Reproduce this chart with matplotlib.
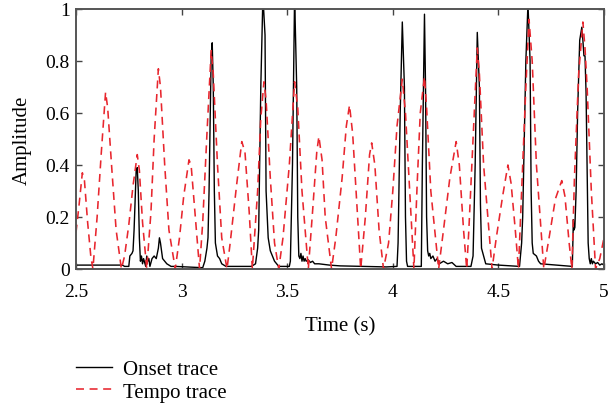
import numpy as np
import matplotlib
matplotlib.use("Agg")
import matplotlib.pyplot as plt

plt.rcParams['font.family'] = ['Liberation Serif', 'DejaVu Serif']

# Onset trace (black)
onset_t = [2.50, 2.72, 2.73, 2.75, 2.755, 2.765, 2.77, 2.775, 2.785, 2.79, 2.795, 2.80,
           2.805, 2.81, 2.815, 2.82, 2.83, 2.835, 2.84, 2.845, 2.85, 2.86, 2.87, 2.88,
           2.89, 2.895, 2.90, 2.91, 2.92, 2.93, 2.95, 2.97, 3.10, 3.11, 3.12, 3.125,
           3.13, 3.14, 3.145, 3.15, 3.155, 3.16, 3.17, 3.18, 3.19, 3.21, 3.33, 3.35,
           3.36, 3.365, 3.375, 3.385, 3.395, 3.40, 3.41, 3.42, 3.44, 3.46, 3.51, 3.515,
           3.525, 3.535, 3.545, 3.55, 3.555, 3.56, 3.565, 3.57, 3.575, 3.58, 3.585, 3.59,
           3.60, 3.61, 3.62, 3.63, 3.65, 3.70, 3.75, 3.97, 4.02, 4.025, 4.035, 4.045,
           4.055, 4.06, 4.065, 4.07, 4.135, 4.14, 4.15, 4.155, 4.16, 4.165, 4.17, 4.175,
           4.18, 4.19, 4.20, 4.21, 4.22, 4.24, 4.26, 4.28, 4.30, 4.33, 4.37, 4.38,
           4.39, 4.40, 4.41, 4.415, 4.42, 4.43, 4.44, 4.50, 4.60, 4.61, 4.615, 4.62,
           4.63, 4.64, 4.65, 4.655, 4.66, 4.665, 4.68, 4.69, 4.70, 4.85, 4.855, 4.858,
           4.862, 4.868, 4.875, 4.885, 4.895, 4.90, 4.905, 4.91, 4.915, 4.92, 4.925,
           4.93, 4.935, 4.94, 4.945, 4.95, 4.96, 4.97, 4.98, 4.99, 5.00]
onset_a = [0.015, 0.015, 0.01, 0.01, 0.05, 0.06, 0.07, 0.15, 0.38, 0.39, 0.30, 0.12,
           0.03, 0.05, 0.02, 0.04, 0.01, 0.05, 0.03, 0.04, 0.01, 0.04, 0.05, 0.04,
           0.08, 0.12, 0.10, 0.04, 0.03, 0.02, 0.01, 0.01, 0.005, 0.03, 0.08, 0.12,
           0.30, 0.82, 0.87, 0.70, 0.30, 0.10, 0.05, 0.04, 0.02, 0.01, 0.01, 0.02,
           0.08, 0.15, 0.70, 1.05, 0.90, 0.30, 0.12, 0.07, 0.03, 0.01, 0.01, 0.03,
           0.40, 1.05, 0.70, 0.20, 0.05, 0.04, 0.06, 0.03, 0.05, 0.03, 0.04, 0.03,
           0.035, 0.025, 0.03, 0.02, 0.02, 0.015, 0.012, 0.008, 0.01, 0.10, 0.60, 0.95,
           0.70, 0.20, 0.03, 0.01, 0.01, 0.40, 0.98, 0.70, 0.20, 0.07, 0.05, 0.06,
           0.04, 0.05, 0.03, 0.04, 0.02, 0.03, 0.02, 0.025, 0.01, 0.01, 0.01, 0.05,
           0.40, 0.91, 0.70, 0.25, 0.08, 0.05, 0.02, 0.015, 0.01, 0.10, 0.20, 0.40,
           0.80, 1.02, 0.80, 0.30, 0.10, 0.06, 0.05, 0.03, 0.02, 0.01, 0.19, 0.15,
           0.16, 0.30, 0.60, 0.88, 0.93, 0.88, 0.82, 0.82, 0.68, 0.40, 0.10,
           0.04, 0.02, 0.04, 0.02, 0.03, 0.02, 0.025, 0.015, 0.02, 0.015]

# Tempo trace (red dashed)
tempo_t = [2.50, 2.515, 2.53, 2.54, 2.555, 2.57, 2.58, 2.60, 2.62, 2.64, 2.65, 2.67,
           2.69, 2.715, 2.73, 2.75, 2.77, 2.79, 2.80, 2.815, 2.835, 2.855, 2.87, 2.89,
           2.90, 2.92, 2.94, 2.97, 2.99, 3.01, 3.035, 3.045, 3.06, 3.085, 3.10, 3.12,
           3.14, 3.15, 3.17, 3.19, 3.215, 3.23, 3.26, 3.285, 3.30, 3.32, 3.335, 3.36,
           3.375, 3.39, 3.40, 3.42, 3.44, 3.46, 3.48, 3.51, 3.535, 3.55, 3.57, 3.60,
           3.62, 3.64, 3.65, 3.665, 3.68, 3.71, 3.73, 3.76, 3.78, 3.795, 3.81, 3.83,
           3.848, 3.87, 3.89, 3.90, 3.915, 3.935, 3.956, 3.98, 4.00, 4.02, 4.045, 4.06,
           4.08, 4.10, 4.115, 4.13, 4.15, 4.16, 4.18, 4.217, 4.24, 4.27, 4.30, 4.315,
           4.335, 4.35, 4.36, 4.38, 4.40, 4.41, 4.43, 4.47, 4.49, 4.52, 4.545, 4.56,
           4.58, 4.595, 4.61, 4.63, 4.645, 4.66, 4.68, 4.715, 4.74, 4.77, 4.80, 4.815,
           4.835, 4.848, 4.86, 4.88, 4.90, 4.91, 4.92, 4.94, 4.96, 4.98, 5.00]
tempo_a = [0.14, 0.25, 0.37, 0.34, 0.18, 0.05, 0.0, 0.20, 0.45, 0.68, 0.62, 0.38,
           0.15, 0.0, 0.05, 0.17, 0.32, 0.44, 0.38, 0.18, 0.0, 0.22, 0.50, 0.77,
           0.70, 0.40, 0.15, 0.0, 0.12, 0.28, 0.42, 0.40, 0.25, 0.0, 0.18, 0.52,
           0.84, 0.75, 0.40, 0.12, 0.0, 0.10, 0.32, 0.49, 0.45, 0.22, 0.0, 0.30,
           0.58, 0.72, 0.65, 0.35, 0.10, 0.0, 0.12, 0.40, 0.72, 0.62, 0.30, 0.0,
           0.22, 0.45, 0.51, 0.42, 0.20, 0.0, 0.12, 0.35, 0.55, 0.63, 0.52, 0.25,
           0.0, 0.20, 0.44, 0.485, 0.40, 0.15, 0.0, 0.10, 0.30, 0.55, 0.73, 0.60,
           0.30, 0.0, 0.32, 0.60, 0.74, 0.62, 0.30, 0.0, 0.15, 0.35, 0.49, 0.40,
           0.15, 0.0, 0.15, 0.50, 0.85, 0.75, 0.40, 0.0, 0.12, 0.28, 0.40, 0.33,
           0.15, 0.0, 0.30, 0.70, 0.96, 0.80, 0.40, 0.0, 0.12, 0.27, 0.34, 0.28,
           0.10, 0.0, 0.35, 0.75, 0.95, 0.85, 0.70, 0.30, 0.0, 0.04, 0.12]

xticks = [2.5, 3, 3.5, 4, 4.5, 5]
xtick_labels = ['2.5', '3', '3.5', '4', '4.5', '5']
yticks = [0, 0.2, 0.4, 0.6, 0.8, 1]
ytick_labels = ['0', '0.2', '0.4', '0.6', '0.8', '1']

fig = plt.figure(figsize=(6.10, 4.06), dpi=100)
ax = fig.add_axes([76/610, 1 - 270/406, 528/610, 260/406])

l1, = ax.plot(onset_t, onset_a, color='black', lw=1.0, label='Onset trace')
l2, = ax.plot(tempo_t, tempo_a, color='#e8262e', lw=1.15, dashes=(5, 3.5),
              label='Tempo trace')

ax.set_xlim(2.5, 5)
ax.set_ylim(0, 1)
ax.set_xticks(xticks)
ax.set_xticklabels(xtick_labels)
ax.set_yticks(yticks)
ax.set_yticklabels(ytick_labels)
ax.tick_params(direction='in', top=True, right=True, length=4, width=1,
               color='#444444', labelsize=14)
ax.tick_params(axis='x', pad=10)
ax.tick_params(axis='y', pad=4.5)
for s in ax.spines.values():
    s.set_color('#555555')
    s.set_linewidth(1.4)
ax.set_xlabel('Time (s)', fontsize=15, labelpad=12)
ax.set_ylabel('Amplitude', fontsize=15, labelpad=10)

fig.legend(handles=[l1, l2], loc='upper left', bbox_to_anchor=(68/610, 1 - 352/406),
           frameon=False, fontsize=15, handlelength=1.73, handletextpad=0.53,
           labelspacing=0.15, borderaxespad=0)

fig.savefig('out.png', dpi=100)
